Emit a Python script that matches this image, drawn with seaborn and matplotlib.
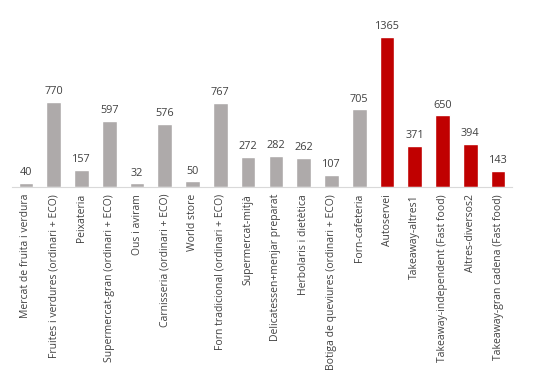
import matplotlib
matplotlib.use("Agg")
import matplotlib.pyplot as plt
import seaborn as sns
import pandas as pd

categories = [
    "Mercat de fruita i verdura",
    "Fruites i verdures (ordinari + ECO)",
    "Peixateria",
    "Supermercat-gran (ordinari + ECO)",
    "Ous i aviram",
    "Carnisseria (ordinari + ECO)",
    "World store",
    "Forn tradicional (ordinari + ECO)",
    "Supermercat-mitjà",
    "Delicatessen+menjar preparat",
    "Herbolaris i dietètica",
    "Botiga de queviures (ordinari + ECO)",
    "Forn-cafeteria",
    "Autoservei",
    "Takeaway-altres1",
    "Takeaway-independent (Fast food)",
    "Altres-diversos2",
    "Takeaway-gran cadena (Fast food)",
]
values = [40, 770, 157, 597, 32, 576, 50, 767, 272, 282, 262, 107, 705, 1365, 371, 650, 394, 143]
groups = ["gray"] * 13 + ["red"] * 5

sns.set_theme(style="white")
plt.rcParams["font.family"] = ["Open Sans", "DejaVu Sans"]

df = pd.DataFrame({"cat": categories, "val": values, "grp": groups})
palette = {"gray": "#AEAAAA", "red": "#C00000"}

fig = plt.figure(figsize=(5.48, 3.78), dpi=100)
ax = fig.add_axes([12 / 548, 1 - 187 / 378, 500 / 548, 165 / 378])
sns.barplot(data=df, x="cat", y="val", hue="grp", palette=palette, dodge=False,
            width=0.53, saturation=1, legend=False, ax=ax)
ax.set_ylim(0, 1500)
ax.set_xlim(-0.5, len(categories) - 0.5)
for i, v in enumerate(values):
    ax.text(i, v + 45, str(v), ha="center", va="bottom", fontsize=7.8, color="#404040")
ax.set_xlabel("")
ax.set_ylabel("")
ax.set_yticks([])
ax.tick_params(axis="x", length=0, pad=5)
ax.set_xticks(range(len(categories)))
ax.set_xticklabels(categories, rotation=90, fontsize=7.5, color="#404040")
for s in ["top", "right", "left"]:
    ax.spines[s].set_visible(False)
ax.spines["bottom"].set_color("#D9D9D9")
ax.spines["bottom"].set_linewidth(0.8)
fig.savefig("out.png", dpi=100)
